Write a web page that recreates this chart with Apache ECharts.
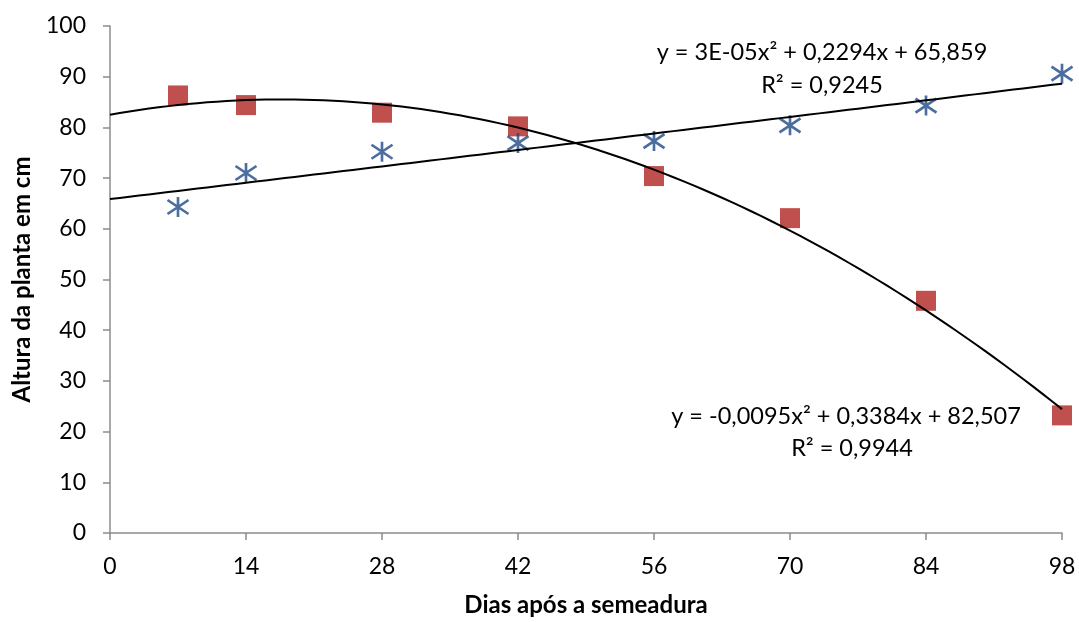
<!DOCTYPE html>
<html><head><meta charset="utf-8">
<script src="https://cdn.jsdelivr.net/npm/echarts@6/dist/echarts.min.js"></script>
<style>html,body{margin:0;padding:0;background:#fff}#c{width:1079px;height:622px}</style>
</head><body><div id="c"></div>
<script>
// Data
const days = [7, 14, 28, 42, 56, 70, 84, 98];
const seriesRed = [86.3, 84.4, 82.9, 80.2, 70.4, 62.1, 45.8, 23.2];
const seriesBlue = [64.3, 71.0, 75.2, 76.9, 77.3, 80.4, 84.3, 90.6];
// Trend line coefficients shown in the chart labels [a, b, c] for a*x^2 + b*x + c
const trendBlue = [0.00003, 0.2294, 65.859];
const trendRed = [-0.0095, 0.3384, 82.507];
const labelBlue = ['y = 3E-05x² + 0,2294x + 65,859', 'R² = 0,9245'];
const labelRed = ['y = -0,0095x² + 0,3384x + 82,507', 'R² = 0,9944'];

function trend(c) {
  const out = [];
  for (let x = 0; x <= 98; x += 1) out.push([x, c[0] * x * x + c[1] * x + c[2]]);
  return out;
}
const FONT = 'Lato';
const chart = echarts.init(document.getElementById('c'));
const axisCommon = {
  axisLine: { show: true, lineStyle: { color: '#8c8c8c', width: 1.5 } },
  axisTick: { show: true, inside: false, length: 7, lineStyle: { color: '#8c8c8c', width: 1.5 } },
  splitLine: { show: false },
  axisLabel: { color: '#000', fontFamily: FONT, fontSize: 23 }
};
const annStyle = { fontFamily: FONT, fontSize: 23.5, fill: '#000', align: 'center', verticalAlign: 'middle' };
chart.setOption({
  animation: false,
  grid: { left: 110, right: 17, top: 26, bottom: 86 },
  xAxis: Object.assign({}, axisCommon, {
    type: 'value', min: 0, max: 98, interval: 14,
    name: 'Dias após a semeadura', nameLocation: 'middle', nameGap: 60,
    nameTextStyle: { color: '#000', fontFamily: FONT, fontSize: 24, fontWeight: 'bold' },
    axisLabel: Object.assign({}, axisCommon.axisLabel, { margin: 22 })
  }),
  yAxis: Object.assign({}, axisCommon, {
    type: 'value', min: 0, max: 100, interval: 10,
    name: 'Altura da planta em cm', nameLocation: 'middle', nameGap: 76, nameRotate: 90,
    nameTextStyle: { color: '#000', fontFamily: FONT, fontSize: 24, fontWeight: 'bold' },
    axisLabel: Object.assign({}, axisCommon.axisLabel, { margin: 24 })
  }),
  series: [
    { type: 'scatter', data: days.map((d, i) => [d, seriesRed[i]]), symbol: 'rect', symbolSize: 20,
      itemStyle: { color: '#C0504D', opacity: 1 }, z: 2 },
    { type: 'scatter', data: days.map((d, i) => [d, seriesBlue[i]]),
      symbol: 'path://M10,0L10,20M0,3L20,17M0,17L20,3', symbolSize: [21, 20],
      itemStyle: { color: 'none', borderColor: '#1F4A86', borderWidth: 2.6 }, z: 2 },
    { type: 'line', data: trend(trendBlue), showSymbol: false, symbol: 'none',
      lineStyle: { color: '#000', width: 2 }, z: 3 },
    { type: 'line', data: trend(trendRed), showSymbol: false, symbol: 'none',
      lineStyle: { color: '#000', width: 2 }, z: 3 }
  ],
  graphic: [
    { type: 'text', x: 822, y: 52, style: Object.assign({ text: labelBlue[0] }, annStyle) },
    { type: 'text', x: 822, y: 85, style: Object.assign({ text: labelBlue[1] }, annStyle) },
    { type: 'text', x: 846, y: 416, style: Object.assign({ text: labelRed[0] }, annStyle) },
    { type: 'text', x: 852, y: 448, style: Object.assign({ text: labelRed[1] }, annStyle) }
  ]
});
</script></body></html>
